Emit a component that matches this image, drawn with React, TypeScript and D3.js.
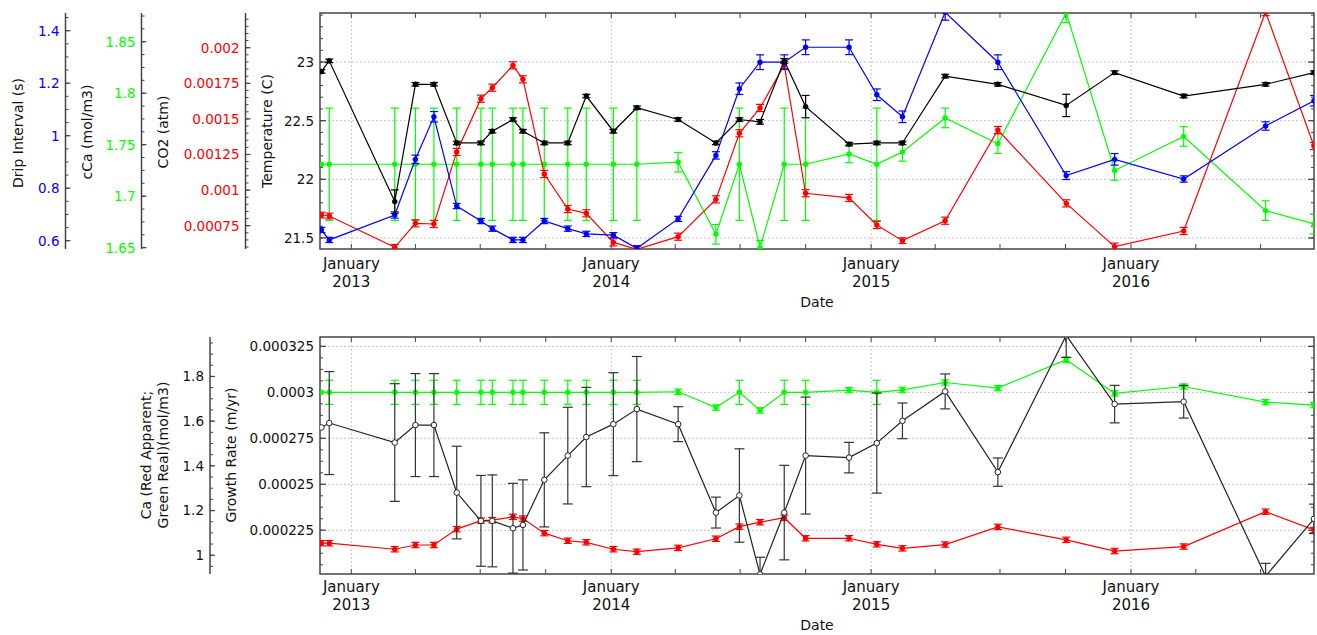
import React from 'react';
import * as d3 from 'd3';

// ── Data ────────────────────────────────────────────────────────────────────
const dates = [
  '2012-11-20', '2012-12-01', '2013-03-03', '2013-04-01', '2013-04-27', '2013-05-29',
  '2013-07-02', '2013-07-18', '2013-08-16', '2013-08-30', '2013-09-29', '2013-11-01',
  '2013-11-27', '2014-01-04', '2014-02-06', '2014-04-05', '2014-05-28', '2014-06-30',
  '2014-07-29', '2014-09-01', '2014-10-01', '2014-12-01', '2015-01-09', '2015-02-14',
  '2015-04-15', '2015-06-28', '2015-10-02', '2015-12-09', '2016-03-15', '2016-07-08',
  '2016-09-14',
];

const temperature = [22.92, 23.01, 21.81, 22.81, 22.81, 22.31, 22.31, 22.41, 22.51, 22.41, 22.31, 22.31, 22.71, 22.41, 22.61, 22.51, 22.31, 22.51, 22.49, 23.01, 22.62, 22.30, 22.31, 22.31, 22.88, 22.81, 22.63, 22.91, 22.71, 22.81, 22.91];
const temperatureErr = [0.015, 0.015, 0.1, 0.015, 0.015, 0.015, 0.015, 0.015, 0.015, 0.015, 0.015, 0.015, 0.015, 0.015, 0.015, 0.015, 0.015, 0.015, 0.02, 0.02, 0.095, 0.015, 0.015, 0.015, 0.015, 0.015, 0.095, 0.015, 0.015, 0.015, 0.015];

const dripInterval = [0.641, 0.603, 0.698, 0.910, 1.072, 0.732, 0.675, 0.646, 0.603, 0.603, 0.675, 0.646, 0.626, 0.621, 0.571, 0.683, 0.925, 1.179, 1.280, 1.280, 1.337, 1.337, 1.156, 1.072, 1.47, 1.280, 0.848, 0.910, 0.835, 1.037, 1.133];
const dripErr = [0.01, 0.01, 0.012, 0.016, 0.02, 0.01, 0.01, 0.01, 0.01, 0.01, 0.01, 0.01, 0.01, 0.01, 0.01, 0.01, 0.014, 0.022, 0.028, 0.028, 0.028, 0.028, 0.022, 0.022, 0.03, 0.028, 0.015, 0.022, 0.012, 0.016, 0.02];

const co2 = [0.000825, 0.000818, 0.000598, 0.000767, 0.000762, 0.001268, 0.001642, 0.001719, 0.001876, 0.001778, 0.001113, 0.000867, 0.000837, 0.000633, 0.000584, 0.000673, 0.000935, 0.001399, 0.001577, 0.001879, 0.000978, 0.000945, 0.000755, 0.000645, 0.000785, 0.001422, 0.000907, 0.000603, 0.000713, 0.00225, 0.00131];
const co2Err = [0.00002, 0.00002, 0.00002, 0.000025, 0.000025, 0.000025, 0.000025, 0.000025, 0.000025, 0.000025, 0.000025, 0.000025, 0.000025, 0.000025, 0.00002, 0.000025, 0.000025, 0.000025, 0.000025, 0.000025, 0.000025, 0.000025, 0.000025, 0.00002, 0.000025, 0.000025, 0.000025, 0.000025, 0.000025, 0.000025, 0.000025];

const cCa = [1.731, 1.731, 1.731, 1.731, 1.731, 1.731, 1.731, 1.731, 1.731, 1.731, 1.731, 1.731, 1.731, 1.731, 1.731, 1.733, 1.663, 1.731, 1.650, 1.731, 1.731, 1.741, 1.731, 1.743, 1.776, 1.751, 1.878, 1.725, 1.758, 1.686, 1.673];
const cCaErr = [0, 0.0545, 0.0545, 0.0545, 0.0545, 0.0545, 0.0545, 0.0545, 0.0545, 0.0545, 0.0545, 0.0545, 0.0545, 0.0545, 0.0545, 0.0095, 0.0095, 0.0545, 0.007, 0.0545, 0.0545, 0.0085, 0.0545, 0.009, 0.0095, 0.0095, 0.0095, 0.0095, 0.0095, 0.0095, 0.0095];

const caReal = [1.729, 1.729, 1.729, 1.729, 1.729, 1.729, 1.729, 1.729, 1.729, 1.729, 1.729, 1.729, 1.729, 1.729, 1.729, 1.7315, 1.661, 1.729, 1.648, 1.729, 1.729, 1.739, 1.729, 1.740, 1.773, 1.748, 1.875, 1.724, 1.755, 1.685, 1.672];
const caRealErr = [0, 0.054, 0.054, 0.054, 0.054, 0.054, 0.054, 0.054, 0.054, 0.054, 0.054, 0.054, 0.054, 0.054, 0.054, 0.012, 0.012, 0.054, 0.012, 0.054, 0.054, 0.012, 0.054, 0.012, 0.012, 0.012, 0.012, 0.012, 0.012, 0.012, 0.012];

const caApparent = [1.054, 1.054, 1.027, 1.046, 1.046, 1.117, 1.155, 1.157, 1.172, 1.164, 1.099, 1.065, 1.058, 1.027, 1.016, 1.033, 1.074, 1.128, 1.148, 1.168, 1.076, 1.076, 1.049, 1.031, 1.048, 1.127, 1.069, 1.019, 1.039, 1.195, 1.113];
const caApparentErr = [0.012, 0.012, 0.012, 0.012, 0.012, 0.012, 0.012, 0.012, 0.012, 0.012, 0.012, 0.012, 0.012, 0.012, 0.012, 0.012, 0.012, 0.012, 0.012, 0.012, 0.012, 0.012, 0.012, 0.012, 0.012, 0.012, 0.012, 0.012, 0.012, 0.012, 0.012];

const growthRate = [0.0002809, 0.0002833, 0.0002727, 0.0002822, 0.0002822, 0.0002455, 0.0002301, 0.0002301, 0.0002261, 0.0002279, 0.0002524, 0.0002656, 0.0002757, 0.0002827, 0.0002909, 0.0002827, 0.0002346, 0.0002439, 0.000201, 0.0002346, 0.0002656, 0.0002645, 0.0002724, 0.0002845, 0.0003005, 0.0002566, 0.000331, 0.0002936, 0.0002949, 0.0002, 0.0002312];
const growthErr = [0, 0.000028, 0.000032, 0.000028, 0.000028, 0.0000252, 0.0000247, 0.000025, 0.0000244, 0.0000245, 0.0000256, 0.0000263, 0.000027, 0.000028, 0.0000286, 0.0000095, 0.0000084, 0.0000254, 0.0000093, 0.0000257, 0.0000318, 0.0000083, 0.0000272, 0.0000097, 0.0000095, 0.0000077, 0.000012, 0.0000102, 0.0000089, 0.000007, 0.000008];

const januaryTicks = ['2013-01-01', '2014-01-01', '2015-01-01', '2016-01-01'];

const dripTicks = [0.6, 0.8, 1, 1.2, 1.4];
const cCaTicks = [1.65, 1.7, 1.75, 1.8, 1.85];
const co2Ticks = [0.00075, 0.001, 0.00125, 0.0015, 0.00175, 0.002];
const tempTicks = [21.5, 22, 22.5, 23];
const caTicks = [1, 1.2, 1.4, 1.6, 1.8];
const growthTicks = [0.000225, 0.00025, 0.000275, 0.0003, 0.000325];

// ── Layout ───────────────────────────────────────────────────────────────────
const W = 1317, H = 635;
const X0 = 320, X1 = 1314;
const TOP = { y0: 13, y1: 249 };
const BOT = { y0: 337, y1: 574 };
const FONT = '"DejaVu Sans", Verdana, sans-serif';
const BLUE = '#0000ff', RED = '#ff0000', GREEN = '#00ff00';

const parse = d3.timeParse('%Y-%m-%d');
const pts = dates.map(d => parse(d));
const xScale = d3.scaleTime()
  .domain([new Date(2012, 10, 18), new Date(2016, 8, 14)])
  .range([X0, X1]);

const yTemp = d3.scaleLinear().domain([21.406, 23.418]).range([TOP.y1, TOP.y0]);
const yDrip = d3.scaleLinear().domain([0.5684, 1.4674]).range([TOP.y1, TOP.y0]);
const yCCa = d3.scaleLinear().domain([1.6487, 1.8779]).range([TOP.y1, TOP.y0]);
const yCO2 = d3.scaleLinear().domain([0.0005864, 0.0022437]).range([TOP.y1, TOP.y0]);
const yGrowth = d3.scaleLinear().domain([0.0002012, 0.0003301]).range([BOT.y1, BOT.y0]);
const yCa = d3.scaleLinear().domain([0.9162, 1.9765]).range([BOT.y1, BOT.y0]);

const fmt = (v: number) => String(+v.toPrecision(6));

function minorValues(scale: d3.ScaleLinear<number, number>, step: number) {
  const [a, b] = scale.domain();
  const start = Math.ceil(a / step - 1e-6);
  const end = Math.floor(b / step + 1e-6);
  return d3.range(start, end + 1).map(k => k * step);
}

// Free-standing vertical axis (ticks point right, labels left)
function SideAxis({ x, scale, majors, minorStep, color }: any) {
  const [y0, y1] = scale.range();
  return (
    <g>
      <line x1={x} x2={x} y1={y1} y2={y0} stroke="#444" strokeWidth={1.5} />
      {minorValues(scale, minorStep).map((v, i) => (
        <line key={'m' + i} x1={x} x2={x + 3} y1={scale(v)} y2={scale(v)} stroke="#444" strokeWidth={1} />
      ))}
      {majors.map((v: number) => (
        <g key={v}>
          <line x1={x} x2={x + 5} y1={scale(v)} y2={scale(v)} stroke="#444" strokeWidth={1.2} />
          <text x={x - 6} y={scale(v)} dy="0.36em" textAnchor="end" fill={color}
            style={{ fontSize: 13.5, fontFamily: FONT }}>{fmt(v)}</text>
        </g>
      ))}
    </g>
  );
}

function Frame({ y0, y1, scale, majors, minorStep }: any) {
  const quarters = d3.timeMonth.every(3)!.range(xScale.domain()[0], xScale.domain()[1]);
  return (
    <g>
      {januaryTicks.map(d => (
        <line key={d} x1={xScale(parse(d)!)} x2={xScale(parse(d)!)} y1={y0} y2={y1}
          stroke="#c4c4c4" strokeDasharray="2,2" strokeWidth={1} />
      ))}
      {majors.map((v: number) => (
        <line key={'g' + v} x1={X0} x2={X1} y1={scale(v)} y2={scale(v)}
          stroke="#c4c4c4" strokeDasharray="2,2" strokeWidth={1} />
      ))}
      {quarters.map((d, i) => (
        <g key={'q' + i}>
          <line x1={xScale(d)} x2={xScale(d)} y1={y1} y2={y1 - 5} stroke="#444" />
          <line x1={xScale(d)} x2={xScale(d)} y1={y0} y2={y0 + 5} stroke="#444" />
        </g>
      ))}
      {minorValues(scale, minorStep).map((v, i) => (
        <g key={'mt' + i}>
          <line x1={X0} x2={X0 + 3} y1={scale(v)} y2={scale(v)} stroke="#444" />
          <line x1={X1} x2={X1 - 3} y1={scale(v)} y2={scale(v)} stroke="#444" />
        </g>
      ))}
      {majors.map((v: number) => (
        <g key={'t' + v}>
          <line x1={X0} x2={X0 + 6} y1={scale(v)} y2={scale(v)} stroke="#444" strokeWidth={1.2} />
          <line x1={X1} x2={X1 - 6} y1={scale(v)} y2={scale(v)} stroke="#444" strokeWidth={1.2} />
          <text x={X0 - 6} y={scale(v)} dy="0.36em" textAnchor="end" fill="#111"
            style={{ fontSize: 13.5, fontFamily: FONT }}>{fmt(v)}</text>
        </g>
      ))}
      <rect x={X0} y={y0} width={X1 - X0} height={y1 - y0} fill="none" stroke="#444" strokeWidth={1.5} />
    </g>
  );
}

function DateLabels({ y }: { y: number }) {
  return (
    <g style={{ fontSize: 15, fontFamily: FONT }} fill="#111">
      {januaryTicks.map(d => {
        const dt = parse(d)!;
        return (
          <g key={d}>
            <text x={xScale(dt)} y={y} textAnchor="middle">January</text>
            <text x={xScale(dt)} y={y + 18} textAnchor="middle">{dt.getFullYear()}</text>
          </g>
        );
      })}
      <text x={(X0 + X1) / 2} y={y + 38} textAnchor="middle" style={{ fontSize: 14 }}>Date</text>
    </g>
  );
}

function Series({ vals, errs, y, color, errColor, open, clip, r = 2.7, cap = 4 }: any) {
  const line = d3.line<number>().x((_, i) => xScale(pts[i]!)).y(v => y(v));
  return (
    <g clipPath={`url(#${clip})`}>
      <path d={line(vals) || ''} fill="none" stroke={color} strokeWidth={1.2} />
      {vals.map((v: number, i: number) => {
        const cx = xScale(pts[i]!);
        const e = errs[i];
        return (
          <g key={i}>
            {e > 0 && (
              <g stroke={errColor || color} strokeWidth={1.2}>
                <line x1={cx} x2={cx} y1={y(v - e)} y2={y(v + e)} />
                <line x1={cx - cap} x2={cx + cap} y1={y(v - e)} y2={y(v - e)} />
                <line x1={cx - cap} x2={cx + cap} y1={y(v + e)} y2={y(v + e)} />
              </g>
            )}
            {open
              ? <circle cx={cx} cy={y(v)} r={r} fill="#fff" stroke={color} strokeWidth={1} />
              : <circle cx={cx} cy={y(v)} r={r} fill={color} />}
          </g>
        );
      })}
    </g>
  );
}

function VTitle({ x, y, children }: any) {
  return (
    <text transform={`translate(${x},${y}) rotate(-90)`} textAnchor="middle" dy="0.35em" fill="#111"
      style={{ fontSize: 14, fontFamily: FONT }}>{children}</text>
  );
}

export default function App() {
  return (
    <svg width={W} height={H} viewBox={`0 0 ${W} ${H}`}
      style={{ position: 'absolute', left: 0, top: 0, background: '#fff' }}>
      <defs>
        <clipPath id="clipTop"><rect x={X0} y={TOP.y0} width={X1 - X0} height={TOP.y1 - TOP.y0} /></clipPath>
        <clipPath id="clipBot"><rect x={X0} y={BOT.y0} width={X1 - X0} height={BOT.y1 - BOT.y0} /></clipPath>
      </defs>

      {/* ── Top panel ── */}
      <SideAxis x={65.5} scale={yDrip} majors={dripTicks} minorStep={0.05} color={BLUE} />
      <SideAxis x={141.5} scale={yCCa} majors={cCaTicks} minorStep={0.0125} color={GREEN} />
      <SideAxis x={245.5} scale={yCO2} majors={co2Ticks} minorStep={0.00005} color={RED} />
      <VTitle x={18} y={133}>Drip Interval (s)</VTitle>
      <VTitle x={87} y={132}>cCa (mol/m3)</VTitle>
      <VTitle x={163} y={132}>CO2 (atm)</VTitle>
      <VTitle x={267} y={131}>Temperature (C)</VTitle>
      <Frame y0={TOP.y0} y1={TOP.y1} scale={yTemp} majors={tempTicks} minorStep={0.1} />
      <Series vals={cCa} errs={cCaErr} y={yCCa} color={GREEN} clip="clipTop" />
      <Series vals={co2} errs={co2Err} y={yCO2} color={RED} clip="clipTop" />
      <Series vals={dripInterval} errs={dripErr} y={yDrip} color={BLUE} clip="clipTop" />
      <Series vals={temperature} errs={temperatureErr} y={yTemp} color="#000" clip="clipTop" />
      <DateLabels y={269} />

      {/* ── Bottom panel ── */}
      <SideAxis x={210} scale={yCa} majors={caTicks} minorStep={0.05} color="#111" />
      <VTitle x={146} y={455}>Ca (Red Apparent;</VTitle>
      <VTitle x={163.5} y={455}>Green Real)(mol/m3)</VTitle>
      <VTitle x={231} y={455}>Growth Rate (m/yr)</VTitle>
      <Frame y0={BOT.y0} y1={BOT.y1} scale={yGrowth} majors={growthTicks} minorStep={0.00000625} />
      <Series vals={caReal} errs={caRealErr} y={yCa} color={GREEN} clip="clipBot" />
      <Series vals={caApparent} errs={caApparentErr} y={yCa} color={RED} clip="clipBot" />
      <Series vals={growthRate} errs={growthErr} y={yGrowth} color="#222" errColor="#333" open r={2.8} cap={5} clip="clipBot" />
      <DateLabels y={592} />
    </svg>
  );
}
